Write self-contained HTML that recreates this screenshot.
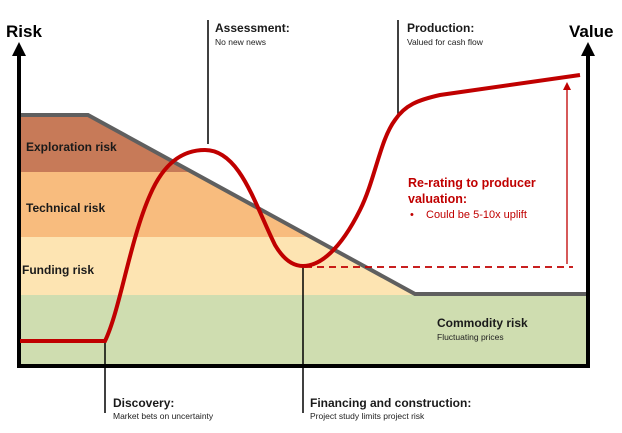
<!DOCTYPE html>
<html><head><style>
body{margin:0;background:#fff}
svg{display:block;font-family:"Liberation Sans",sans-serif}
.b{font-weight:bold;font-size:12px;fill:#1a1a1a}
.s{font-size:8.5px;fill:#222}
</style></head><body>
<svg width="622" height="433" viewBox="0 0 622 433">
<polygon points="20,115 88,115 192,172 20,172" fill="#c77a58"/>
<polygon points="20,172 192,172 311,237 20,237" fill="#f8bc7e"/>
<polygon points="20,237 311,237 417,295 20,295" fill="#fde4b2"/>
<rect x="20" y="295" width="568" height="71" fill="#cfddb0"/>
<polyline points="20,115 88,115 415,294 586,294" fill="none" stroke="#5f5f5f" stroke-width="4"/>
<!-- axes -->
<line x1="19" y1="366" x2="19" y2="52" stroke="#000" stroke-width="4"/>
<polygon points="12,56 19,42 26,56" fill="#000"/>
<line x1="588" y1="368" x2="588" y2="52" stroke="#000" stroke-width="4"/>
<polygon points="581,56 588,42 595,56" fill="#000"/>
<line x1="17" y1="366" x2="590" y2="366" stroke="#000" stroke-width="4"/>
<!-- annotation lines -->
<line x1="208" y1="20" x2="208" y2="144" stroke="#000" stroke-width="1.5"/>
<line x1="398" y1="20" x2="398" y2="114" stroke="#000" stroke-width="1.5"/>
<line x1="105" y1="341" x2="105" y2="413" stroke="#000" stroke-width="1.5"/>
<line x1="303" y1="266" x2="303" y2="413" stroke="#000" stroke-width="1.5"/>
<!-- dashed -->
<line x1="305" y1="267" x2="573" y2="267" stroke="#c00000" stroke-width="1.8" stroke-dasharray="7,5"/>
<line x1="567" y1="264" x2="567" y2="86" stroke="#c00000" stroke-width="1.3"/>
<polygon points="563,90 567,82 571,90" fill="#c00000"/>
<!-- red curve -->
<path d="M20,341 L105,341 C120,310 130,240 150,195 C165,160 185,150 205,150 C240,150 255,205 275,245 C285,262 295,266 303,266 C320,266 340,250 360,210 C375,180 380,140 395,120 C405,105 418,100 440,95 L580,75" fill="none" stroke="#c00000" stroke-width="4"/>
<!-- text -->
<text x="6" y="37" style="font-weight:bold;font-size:17px">Risk</text>
<text x="569" y="37" style="font-weight:bold;font-size:17px">Value</text>
<text x="215" y="32" class="b">Assessment:</text>
<text x="215" y="45" class="s">No new news</text>
<text x="407" y="32" class="b">Production:</text>
<text x="407" y="45" class="s">Valued for cash flow</text>
<text x="26" y="151" class="b">Exploration risk</text>
<text x="26" y="212" class="b">Technical risk</text>
<text x="22" y="274" class="b">Funding risk</text>
<text x="408" y="187" style="font-weight:bold;font-size:12.5px;fill:#c00000">Re-rating to producer</text>
<text x="408" y="203" style="font-weight:bold;font-size:12.5px;fill:#c00000">valuation:</text>
<text x="410" y="218" style="font-size:11px;fill:#c00000">•</text>
<text x="426" y="218" style="font-size:11px;fill:#c00000">Could be 5-10x uplift</text>
<text x="437" y="327" class="b">Commodity risk</text>
<text x="437" y="340" class="s">Fluctuating prices</text>
<text x="113" y="407" class="b">Discovery:</text>
<text x="113" y="419" class="s">Market bets on uncertainty</text>
<text x="310" y="407" class="b">Financing and construction:</text>
<text x="310" y="419" class="s">Project study limits project risk</text>
</svg>
</body></html>
